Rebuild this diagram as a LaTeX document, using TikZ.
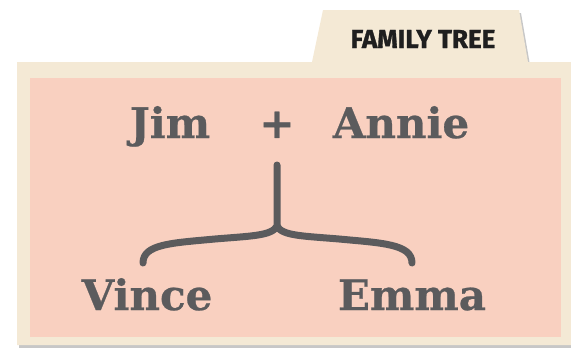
\documentclass[tikz,border=0pt]{standalone}
\usepackage{fontspec}
\newfontfamily\namefont[BoldFeatures={FakeBold=0.6}]{DejaVu Serif}
\newfontfamily\tabfont[BoldFeatures={FakeBold=1.2}]{Fira Sans}
\usetikzlibrary{positioning}

\definecolor{folder}{HTML}{F4E9D5}
\definecolor{paper}{HTML}{F9D0C0}
\definecolor{ink}{HTML}{5B5B5D}

\tikzset{
    person/.style={font=\namefont\bfseries\fontsize{42}{42}\selectfont, text=ink, inner sep=0pt, anchor=base},
    link/.style={draw=ink, line width=7pt, line cap=round},
}

\begin{document}
\begin{tikzpicture}[x=1pt,y=-1pt]
    % --- RAMECEK ---
    \useasboundingbox (0,0) rectangle (571,348);

    % --- SLOZKA (stin, karta, papir) ---
    \fill[black!22] (19,65) -- (314,65) -- (325,13) -- (521,13) -- (530,65) -- (573,65)
        -- (573,348) -- (19,348) -- cycle;
    \fill[folder] (17,62) -- (312,62) -- (323,10) -- (519,10) -- (528,62) -- (571,62)
        -- (571,345) -- (17,345) -- cycle;
    \fill[paper] (30,78) rectangle (561,337);
    \node[font=\tabfont\bfseries\fontsize{26}{26}\selectfont, text=black!88] (tab) at (423,39) {FAMILY TREE};

    % --- JMENA ---
    \node[person] (jim) at (170,138) {Jim};
    \node[person] (plus) at (277,138) {+};
    \node[person] (annie) at (401,138) {Annie};
    \node[person] (vince) at (147,310) {Vince};
    \node[person] (emma) at (412,310) {Emma};

    % --- SPOJNICE ---
    \coordinate (stem) at (277,165);
    \coordinate (fork) at (277,226);
    \coordinate (lend) at (143,263);
    \coordinate (rend) at (412,263);
    \draw[link] (stem) -- (fork)
        .. controls (272,236) and (250,236) .. (215,239)
        .. controls (172,243) and (143,244) .. (lend);
    \draw[link] (fork)
        .. controls (282,236) and (304,236) .. (339,239)
        .. controls (382,243) and (412,244) .. (rend);
\end{tikzpicture}
\end{document}
